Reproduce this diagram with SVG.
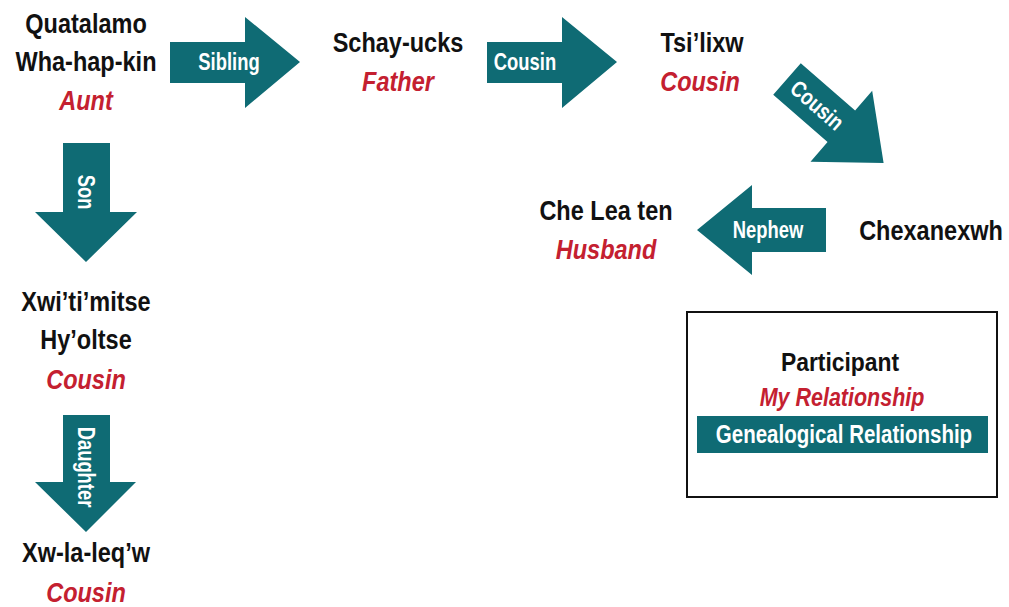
<svg xmlns="http://www.w3.org/2000/svg" width="1009" height="607" viewBox="0 0 1009 607">
  <defs>
    <style>
      text { font-family: "Liberation Sans", Arial, sans-serif; font-weight: bold; text-anchor: middle; }
      .name { font-size: 28px; fill: #111111; }
      .rel { font-size: 28px; fill: #c42030; font-style: italic; }
      .lbl { font-size: 23px; fill: #ffffff; }
      .arrow { fill: #0f6b74; }
    </style>
  </defs>
  <rect width="1009" height="607" fill="#ffffff"/>

  <g id="connectors">
    <g id="arrow-sibling">
      <polygon class="arrow" points="170,42 245,42 245,17 300,62 245,108 245,83 170,83"/>
      <text class="lbl" transform="translate(229,70) scale(0.8,1)">Sibling</text>
    </g>
    <g id="arrow-cousin1">
      <polygon class="arrow" points="487,42 562,42 562,17 617,62 562,108 562,83 487,83"/>
      <text class="lbl" transform="translate(525,70) scale(0.8,1)">Cousin</text>
    </g>
    <g id="arrow-cousin2" transform="translate(787,79) rotate(41)">
      <polygon class="arrow" points="0,-21 72,-21 72,-47 128,0 72,47 72,21 0,21"/>
      <text class="lbl" transform="translate(40,8) scale(0.8,1)">Cousin</text>
    </g>
    <g id="arrow-nephew">
      <polygon class="arrow" points="826,208 752,208 752,185 697,230 752,275 752,252 826,252"/>
      <text class="lbl" transform="translate(768,238) scale(0.8,1)">Nephew</text>
    </g>
    <g id="arrow-son">
      <polygon class="arrow" points="63,143 110,143 110,212 137,212 86,262 35,212 63,212"/>
      <text class="lbl" transform="translate(78,192) rotate(90) scale(0.8,1)">Son</text>
    </g>
    <g id="arrow-daughter">
      <polygon class="arrow" points="63,415 110,415 110,482 136,482 86,532 35,482 63,482"/>
      <text class="lbl" transform="translate(78,467) rotate(90) scale(0.8,1)">Daughter</text>
    </g>
  </g>

  <g id="node-quatalamo">
    <text class="name" transform="translate(86,33) scale(0.84,1)">Quatalamo</text>
    <text class="name" transform="translate(86,71) scale(0.84,1)">Wha-hap-kin</text>
    <text class="rel" transform="translate(86,110) scale(0.84,1)">Aunt</text>
  </g>
  <g id="node-schay-ucks">
    <text class="name" transform="translate(398,52) scale(0.84,1)">Schay-ucks</text>
    <text class="rel" transform="translate(398,91) scale(0.84,1)">Father</text>
  </g>
  <g id="node-tsilixw">
    <text class="name" transform="translate(702,52) scale(0.84,1)">Tsi’lixw</text>
    <text class="rel" transform="translate(700,91) scale(0.84,1)">Cousin</text>
  </g>
  <g id="node-chexanexwh">
    <text class="name" transform="translate(931,240) scale(0.84,1)">Chexanexwh</text>
  </g>
  <g id="node-che-lea-ten">
    <text class="name" transform="translate(606,220) scale(0.84,1)">Che Lea ten</text>
    <text class="rel" transform="translate(606,259) scale(0.84,1)">Husband</text>
  </g>
  <g id="node-xwitimitse">
    <text class="name" transform="translate(86,311) scale(0.84,1)">Xwi’ti’mitse</text>
    <text class="name" transform="translate(86,349) scale(0.84,1)">Hy’oltse</text>
    <text class="rel" transform="translate(86,389) scale(0.84,1)">Cousin</text>
  </g>
  <g id="node-xwlaleqw">
    <text class="name" transform="translate(86,562) scale(0.84,1)">Xw-la-leq’w</text>
    <text class="rel" transform="translate(86,602) scale(0.84,1)">Cousin</text>
  </g>

  <g id="legend">
    <rect x="687" y="312" width="310" height="185" fill="#ffffff" stroke="#111111" stroke-width="2"/>
    <text class="name" transform="translate(840,371) scale(0.88,1)" style="font-size:26px">Participant</text>
    <text class="rel" transform="translate(842,406) scale(0.86,1)" style="font-size:25px">My Relationship</text>
    <rect x="697" y="416" width="291" height="37" class="arrow"/>
    <text class="lbl" transform="translate(844,443) scale(0.82,1)" style="font-size:25px">Genealogical Relationship</text>
  </g>
</svg>
